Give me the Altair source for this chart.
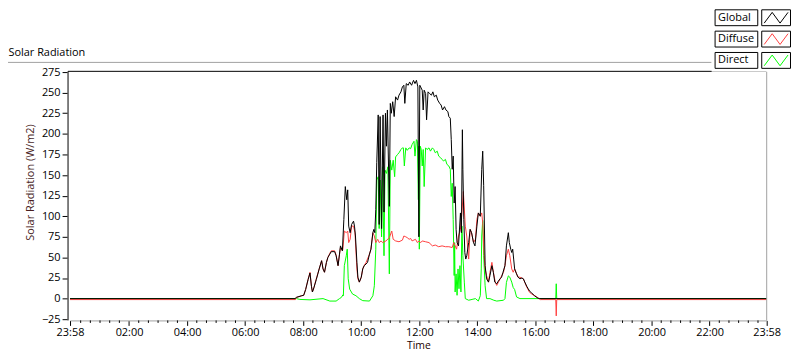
import altair as alt
import pandas as pd

FONT = "Open Sans"

SERIES = ["Global", "Diffuse", "Direct"]
COLORS = ["#000000", "#ff4040", "#00ff00"]

# minutes after midnight, W/m2
GLOBAL_MIN = [-2, 463, 466, 477, 481, 485, 490, 494, 497, 499, 502, 507, 513, 518, 521, 524, 528, 531, 535, 538, 545, 548, 552, 555, 557, 561,
              564, 567, 570, 572, 574, 577, 580, 584, 586, 588, 591, 593, 596, 600, 603, 606, 610, 613, 617, 620, 624, 626, 628, 630, 632, 635, 637, 639, 642, 645, 647, 650, 652, 654, 658, 660, 662, 665, 668, 671, 675, 678, 682, 685,
              688, 690, 693, 697, 700, 704, 708, 711, 714, 717, 719, 721, 726, 728, 730, 733, 735, 738, 741, 745, 748, 751, 755, 758, 762, 765, 768, 772, 775, 779, 781, 784, 786, 788, 790, 792, 794, 796, 798, 801, 805, 807,
              809, 810, 812, 814, 816, 818, 822, 825, 828, 832, 835, 839, 842, 846, 849, 851, 853, 856, 859, 863, 866, 870, 873, 876, 880, 883, 887, 890, 893, 897, 900, 904, 906, 909, 911, 913, 915, 917, 921, 924, 928, 932, 935, 938, 942, 945, 948, 952, 958, 965, 969, 1438]
GLOBAL_W = [0, 0, 1.5, 3.5, 4, 11, 23, 31, 15, 8, 13, 23, 36, 46, 36, 32, 44, 50, 54, 57, 57, 52, 40, 54, 64, 58,
            96, 136, 120, 132, 88, 80, 90, 94, 88, 76, 44, 26, 20, 26, 36, 40, 42, 44, 54, 60, 80, 84, 80, 108, 165, 223, 90, 221, 85, 223, 105, 225, 185, 229, 112, 237, 225, 239, 221, 245, 241, 247, 251, 257,
            259, 237, 261, 259, 263, 259, 265, 261, 265, 257, 75, 259, 253, 229, 253, 249, 217, 251, 249, 247, 251, 245, 247, 241, 237, 235, 229, 233, 229, 227, 221, 219, 193, 157, 173, 116, 136, 84, 68, 64, 104, 80,
            205, 157, 96, 56, 48, 52, 68, 84, 80, 68, 64, 88, 104, 100, 157, 179, 137, 40, 24, 20, 28, 40, 32, 20, 18, 21, 24, 26, 32, 40, 64, 80, 68, 60, 56, 60, 48, 36, 30, 26, 24, 25, 24, 20, 15, 12, 9, 7, 3.5, 0.5, 0, 0]

DIFFUSE_MIN = [-2, 464, 466, 477, 481, 485, 490, 494, 497, 499, 502, 507, 513, 518, 521, 524, 528, 531, 535, 538, 545, 548, 552, 555, 557, 561,
               562, 565, 569, 572, 574, 577, 580, 584, 587, 591, 593, 596, 600, 603, 606, 610, 617, 620, 624, 627, 630, 634, 637, 641, 644, 651, 658, 663, 666, 671, 678, 685,
               688, 692, 695, 699, 702, 705, 712, 716, 719, 723, 726, 733, 740, 747, 753, 760, 767, 774, 781, 788, 791, 794, 797, 801, 805, 808, 811, 815, 818, 822, 825, 828, 832, 836, 839, 842, 846, 849, 851, 854, 856, 859, 863, 866, 870, 873, 877, 880, 887, 894, 897, 900, 904, 907, 911, 914, 917, 921, 924, 928, 935, 942, 948, 955, 962, 966, 970, 1002, 1003, 1004, 1438]
DIFFUSE_W = [-1.2, -1.2, 1.5, 3.5, 4, 11, 23, 32, 15, 8, 13, 24, 36, 46, 36, 32, 44, 50, 55, 58, 58, 53, 40, 54, 62, 58,
             60, 82, 80, 82, 68, 72, 88, 88, 80, 36, 24, 20, 26, 36, 40, 44, 54, 60, 80, 76, 68, 72, 68, 70, 68, 70, 74, 82, 72, 70, 69, 71,
             76, 75, 74, 72, 73, 70, 72, 68, 70, 68, 70, 69, 68, 64, 65, 63, 64, 63, 63, 62, 68, 64, 60, 76, 84, 104, 130, 88, 76, 48, 84, 80, 68, 72, 96, 104, 100, 104, 92, 52, 36, 28, 20, 32, 44, 32, 20, 16, 24, 32, 40, 52, 60, 52, 36, 32, 36, 30, 26, 26, 24, 14, 7.5, 4.5, 2.5, 0.5, -1.2, -1.2, -21, -1.2, -1.2]

DIRECT_MIN = [-2, 466, 473, 494, 521, 535, 548, 555, 559, 562, 563, 565, 569, 571, 573, 576, 582, 589, 596, 603, 617, 624, 627, 630, 632, 635, 637, 639, 642, 644, 647, 649, 652, 655, 658, 660, 663, 666, 669, 671, 675, 678, 682, 685,
              687, 689, 692, 695, 699, 702, 705, 709, 711, 714, 716, 718, 719, 720, 722, 724, 726, 728, 730, 733, 736, 740, 743, 747, 750, 753, 757, 760, 764, 767, 770, 774, 777, 781, 784, 786, 788, 790, 792, 793, 794, 796, 798, 800, 802, 804, 806, 808, 810, 813, 815, 822, 829, 836, 842, 846, 848, 849, 851, 853, 856, 859, 866, 874, 880, 894, 897, 900, 904, 907, 911, 914, 917, 921, 928, 1002, 1003, 1004, 1438]
DIRECT_W = [0, 0, -1, -1.5, 0, -3, -3, 0, 1.5, 4.5, 3.5, 40, 52, 60, 24, 11.5, 5.5, 3.5, 0, -2.5, -3, 3.5, 15.6, 60, 144, 148, 85, 144, 75, 160, 52, 156, 152, 160, 30, 168, 156, 168, 148, 172, 175, 177, 181, 183,
            183, 161, 183, 180, 183, 182, 187, 191, 173, 193, 191, 120, 185, 60, 185, 181, 161, 181, 136, 183, 181, 183, 179, 183, 181, 177, 179, 173, 171, 169, 167, 169, 163, 161, 157, 124, 140, 96, 28, 68, 8, 30, 4, 36, 12, 40, 8, 88, 52, 20, 0, -2, -1, 0, -3, 3.5, 36, 76, 95, 52, 15.6, 0, 0, -2, -3, -2, 0, 19.6, 27.6, 26, 20, 13.5, 11, 2, 0, 0, 18, 0, 0]

X_TICK_VALUES = [-2, 120, 240, 360, 480, 600, 720, 840, 960, 1080, 1200, 1320, 1438]
X_TICK_LABELS = ["23:58", "02:00", "04:00", "06:00", "08:00", "10:00", "12:00",
                 "14:00", "16:00", "18:00", "20:00", "22:00", "23:58"]
X_MINOR = [m for m in range(20, 1438, 20) if m % 120 != 0]
Y_TICKS = [-25, 0, 25, 50, 75, 100, 125, 150, 175, 200, 225, 250, 275]

# ---- build tables ----
rows = []
for name, mins, vals in [("Direct", DIRECT_MIN, DIRECT_W),
                         ("Diffuse", DIFFUSE_MIN, DIFFUSE_W),
                         ("Global", GLOBAL_MIN, GLOBAL_W)]:
    for i, (m, v) in enumerate(zip(mins, vals)):
        rows.append({"series": name, "minute": m, "value": v, "idx": i})
df = pd.DataFrame(rows)
minor_df = pd.DataFrame({"minute": X_MINOR})
ONE = pd.DataFrame({"k": [0]})

label_expr = " : ".join(
    f"datum.value == {v} ? '{t}'" for v, t in zip(X_TICK_VALUES, X_TICK_LABELS)
) + " : ''"

W, H = 702, 249
PAD_L, PAD_T = 62.5, 63.25
CANVAS_W, CANVAS_H = 790, 345
GRAY = "#a0a0a0"
X_OFF = 1.25

x_enc = alt.X(
    "minute:Q",
    scale=alt.Scale(domain=[-2, 1438], nice=False, zero=False),
    axis=alt.Axis(
        values=X_TICK_VALUES, labelExpr=label_expr, title="Time", grid=False,
        offset=X_OFF, domainColor=GRAY, tickColor="#000000", tickSize=5, tickWidth=1,
        labelPadding=10, labelBaseline="alphabetic", labelFont=FONT, labelFontSize=11,
        labelColor="#000000", labelOverlap=False, labelFlush=False,
        titleFont=FONT, titleFontSize=10.5, titleFontWeight="normal", titleColor="#1a0000",
        titleY=28.5, titleBaseline="alphabetic",
    ),
)
y_enc = alt.Y(
    "value:Q",
    scale=alt.Scale(domain=[-25, 275], nice=False, zero=False),
    axis=alt.Axis(
        values=Y_TICKS, title="Solar Radiation (W/m2)", grid=False, domain=False,
        offset=3, tickColor="#000000", tickSize=5, labelPadding=2,
        labelFont=FONT, labelFontSize=11, labelColor="#000000", labelFlush=False,
        labelOverlap=False,
        titleFont=FONT, titleFontSize=11, titleFontWeight="normal", titleColor="#4a1f1f",
        titleX=-36.5, titleY=110.75, titleAngle=270, titleAlign="center", titleBaseline="middle",
    ),
)
color_enc = alt.Color("series:N", scale=alt.Scale(domain=SERIES, range=COLORS), legend=None)

layers = []
for name in ["Direct", "Diffuse", "Global"]:
    layers.append(
        alt.Chart(df).transform_filter(alt.datum.series == name)
        .mark_line(strokeWidth=1, interpolate="linear")
        .encode(x=x_enc, y=y_enc, color=color_enc, order=alt.Order("idx:Q"))
    )

minor = alt.Chart(minor_df).mark_rule(color="#000000", strokeWidth=1).encode(
    x=alt.X("minute:Q"), y=alt.value(H + X_OFF), y2=alt.value(H + X_OFF + 2.5)
)


def rule(x, x2, y, y2, color, sw=1):
    return alt.Chart(ONE).mark_rule(color=color, strokeWidth=sw).encode(
        x=alt.value(x), x2=alt.value(x2), y=alt.value(y), y2=alt.value(y2)
    )


deco = [
    rule(-2, 702, -0.75, -0.75, "#000000"),            # top border
    rule(-2, -2, -0.75, H + X_OFF, "#000000"),          # left border
    rule(702, 702, -0.75, H + X_OFF, GRAY),             # right border
    rule(-PAD_L, 646.5, -9.75, -9.75, GRAY),            # outer frame top
    alt.Chart(ONE).mark_text(text="Solar Radiation", font=FONT, fontSize=11, align="left",
                             baseline="alphabetic", color="#000000").encode(
        x=alt.value(-PAD_L + 0.5), y=alt.value(-16.25)),
    alt.Chart(ONE).mark_rect(fill="#ffffff").encode(
        x=alt.value(646.5), x2=alt.value(CANVAS_W - PAD_L), y=alt.value(-PAD_T), y2=alt.value(-0.25)),
]

ZIGZAG = "M -1 0.45 L -0.33 -0.45 L 0.33 0.45 L 1 -0.45"
for i, (name, col) in enumerate(zip(SERIES, COLORS)):
    top = -62.75 + i * 21.5
    bot = top + 16
    mid = (top + bot) / 2
    deco.append(alt.Chart(ONE).mark_rect(fill="#ffffff", stroke="#000000", strokeWidth=1).encode(
        x=alt.value(650), x2=alt.value(693), y=alt.value(top), y2=alt.value(bot)))
    deco.append(alt.Chart(ONE).mark_rect(fill="#ffffff", stroke="#000000", strokeWidth=1).encode(
        x=alt.value(697), x2=alt.value(726), y=alt.value(top), y2=alt.value(bot)))
    deco.append(alt.Chart(ONE).mark_text(text=name, font=FONT, fontSize=11, align="left",
                                         baseline="middle", color="#000000").encode(
        x=alt.value(653), y=alt.value(mid)))
    deco.append(alt.Chart(ONE).mark_point(shape=ZIGZAG, filled=False, size=576, strokeWidth=1,
                                          color=col, opacity=1).encode(
        x=alt.value(711.5), y=alt.value(mid)))

chart = alt.layer(*layers, minor, *deco).properties(
    width=W, height=H,
    padding={"left": PAD_L, "top": PAD_T, "right": CANVAS_W - PAD_L - W,
             "bottom": CANVAS_H - PAD_T - H},
    autosize=alt.AutoSizeParams(type="none"),
    background="#ffffff",
).configure_view(stroke=None)

chart.save("out.html", embed_options={"renderer": "svg", "actions": False})
